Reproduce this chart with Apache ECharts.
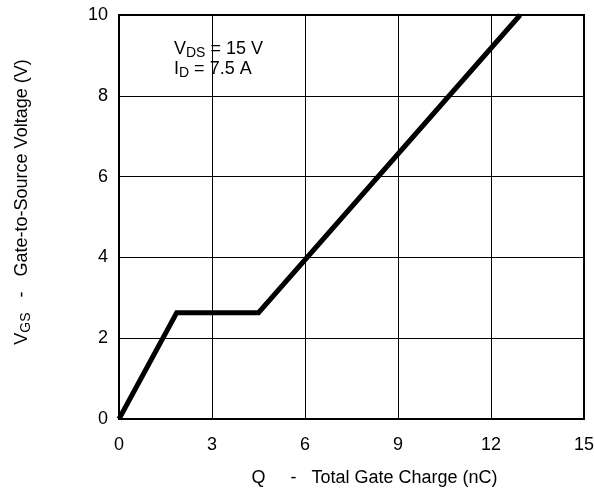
<!DOCTYPE html>
<html><head><meta charset="utf-8">
<script src="https://cdn.jsdelivr.net/npm/echarts@6/dist/echarts.min.js"></script>
<style>html,body{margin:0;padding:0;background:#fff}#c{width:594px;height:490px}</style>
</head><body><div id="c"></div>
<script>
const chargeNC = [0, 1.86, 4.5, 12.94];
const vgsV = [0, 2.63, 2.63, 10];
const xTicks = [0, 3, 6, 9, 12, 15];
const yTicks = [0, 2, 4, 6, 8, 10];
const FONT = '"Liberation Sans", Arial, Helvetica, sans-serif';
const data = chargeNC.map((x, i) => [x, vgsV[i]]);
const chart = echarts.init(document.getElementById('c'), null, {renderer: 'canvas'});
const subRich = {
  a: {fontFamily: FONT, fontSize: 18, color: '#000', lineHeight: 20, verticalAlign: 'top', padding: [0, 0, 6, 0]},
  s: {fontFamily: FONT, fontSize: 14, color: '#000', lineHeight: 20, verticalAlign: 'top', padding: [6, 0, 0, 0]}
};
chart.setOption({
  animation: false,
  backgroundColor: '#fff',
  grid: {left: 119, right: 10, top: 15, bottom: 71, show: true, borderColor: '#000', borderWidth: 2,
         containLabel: false, outerBoundsMode: 'none'},
  xAxis: {
    type: 'value', min: 0, max: 15, interval: 3,
    name: 'Q     -   Total Gate Charge (nC)', nameLocation: 'middle', nameGap: 50,
    nameTextStyle: {fontFamily: FONT, fontSize: 18, color: '#000', padding: [0, 0, 0, 46]},
    axisLine: {show: true, lineStyle: {color: '#000', width: 2}},
    axisTick: {show: false},
    axisLabel: {fontFamily: FONT, fontSize: 18, color: '#000', margin: 17},
    splitLine: {show: true, lineStyle: {color: '#000', width: 1}}
  },
  yAxis: {
    type: 'value', min: 0, max: 10, interval: 2,
    name: '{a|V}{s|GS}{a|   -   Gate-to-Source Voltage (V)}', nameLocation: 'middle', nameGap: 86, nameRotate: 90,
    nameTextStyle: {fontFamily: FONT, fontSize: 18, color: '#000', rich: subRich, padding: [0, 0, 0, 30]},
    axisLine: {show: true, lineStyle: {color: '#000', width: 2}},
    axisTick: {show: false},
    axisLabel: {fontFamily: FONT, fontSize: 18, color: '#000', margin: 11},
    splitLine: {show: true, lineStyle: {color: '#000', width: 1}}
  },
  graphic: [
    {type: 'text', left: 174, top: 40, style: {text: '{a|V}{s|DS}{a| = 15 V}', rich: subRich, fill: '#000'}},
    {type: 'text', left: 174, top: 60, style: {text: '{a|I}{s|D}{a| = 7.5 A}', rich: subRich, fill: '#000'}}
  ],
  series: [{
    type: 'line', data: data, symbol: 'none', clip: true,
    lineStyle: {color: '#000', width: 5, join: 'miter'}
  }]
});
</script></body></html>
